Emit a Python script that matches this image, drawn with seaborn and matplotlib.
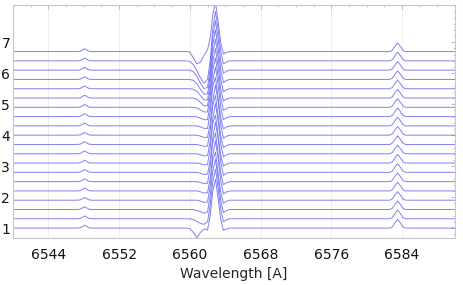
import numpy as np
import pandas as pd
import matplotlib
matplotlib.use("Agg")
import matplotlib.pyplot as plt
from matplotlib.ticker import MultipleLocator
import seaborn as sns

# vertical offset of each spectrum, bottom to top
offsets = [1.0, 1.3, 1.6, 1.9, 2.2, 2.5, 2.8, 3.1, 3.4, 3.7,
           4.0, 4.3, 4.6, 4.9, 5.2, 5.5, 5.8, 6.1, 6.4, 6.7]

# continuum + [NII] 6548 on the blue side
wl_blue = [6540.0, 6547.3, 6547.6, 6547.85, 6548.1, 6548.35, 6548.6, 6548.9, 6559.2]
flux_blue = [0.0, 0.0, 0.01, 0.05, 0.09, 0.05, 0.01, 0.0, 0.0]

# continuum + [NII] 6583 on the red side
wl_red = [6564.9, 6582.6, 6582.9, 6583.2, 6583.5, 6583.8, 6584.1, 6584.4, 6590.0]
flux_red = [0.0, 0.0, 0.04, 0.17, 0.28, 0.17, 0.04, 0.0, 0.0]

# H-alpha region, one row per spectrum (bottom to top)
wl_ha = [6559.6, 6560.0, 6560.4, 6560.8, 6561.2, 6561.6, 6562.0, 6562.3,
         6562.6, 6562.9, 6563.2, 6563.5, 6563.8, 6564.1, 6564.5]
ha_rows = [
    [0.00, -0.01, -0.14, -0.32, -0.14, -0.03, -0.06, 0.40, 1.20, 1.58, 0.95, 0.28, -0.08, -0.03, 0.00],
    [0.00, 0.00, -0.03, -0.08, -0.15, -0.18, -0.10, 0.42, 1.22, 1.60, 0.98, 0.30, -0.10, -0.04, 0.00],
    [0.00, 0.00, 0.00, -0.03, -0.07, -0.12, -0.08, 0.45, 1.25, 1.62, 0.96, 0.28, -0.10, -0.04, 0.00],
    [0.00, 0.00, 0.00, 0.00, -0.03, -0.07, -0.06, 0.47, 1.30, 1.55, 0.88, 0.25, -0.10, -0.04, 0.00],
    [0.00, 0.00, 0.00, 0.00, -0.03, -0.07, -0.06, 0.40, 1.15, 1.62, 1.05, 0.32, -0.10, -0.04, 0.00],
    [0.00, 0.00, 0.00, 0.00, -0.03, -0.06, -0.05, 0.47, 1.28, 1.57, 0.90, 0.26, -0.10, -0.04, 0.00],
    [0.00, 0.00, 0.00, 0.00, -0.03, -0.07, -0.06, 0.38, 1.12, 1.62, 1.08, 0.33, -0.10, -0.04, 0.00],
    [0.00, 0.00, 0.00, 0.00, -0.02, -0.06, -0.05, 0.47, 1.30, 1.55, 0.88, 0.25, -0.10, -0.04, 0.00],
    [0.00, 0.00, 0.00, 0.00, -0.03, -0.07, -0.06, 0.40, 1.15, 1.62, 1.05, 0.32, -0.10, -0.04, 0.00],
    [0.00, 0.00, 0.00, 0.00, -0.03, -0.06, -0.05, 0.46, 1.26, 1.58, 0.92, 0.27, -0.10, -0.04, 0.00],
    [0.00, 0.00, 0.00, 0.00, -0.03, -0.07, -0.07, 0.38, 1.12, 1.62, 1.08, 0.33, -0.10, -0.04, 0.00],
    [0.00, 0.00, 0.00, 0.00, -0.03, -0.08, -0.08, 0.45, 1.28, 1.57, 0.90, 0.26, -0.10, -0.04, 0.00],
    [0.00, 0.00, 0.00, -0.01, -0.05, -0.10, -0.10, 0.40, 1.18, 1.60, 1.02, 0.30, -0.10, -0.04, 0.00],
    [0.00, 0.00, 0.00, -0.02, -0.08, -0.15, -0.15, 0.35, 1.20, 1.60, 1.00, 0.30, -0.10, -0.04, 0.00],
    [0.00, 0.00, 0.00, -0.04, -0.14, -0.25, -0.25, 0.28, 1.18, 1.60, 1.00, 0.30, -0.10, -0.04, 0.00],
    [0.00, 0.00, -0.02, -0.08, -0.22, -0.36, -0.36, 0.20, 1.16, 1.60, 1.00, 0.30, -0.10, -0.04, 0.00],
    [0.00, 0.00, -0.03, -0.14, -0.32, -0.48, -0.46, 0.12, 1.14, 1.60, 1.00, 0.30, -0.10, -0.04, 0.00],
    [0.00, 0.00, -0.05, -0.20, -0.42, -0.60, -0.55, 0.05, 1.10, 1.60, 1.00, 0.30, -0.10, -0.04, 0.00],
    [0.00, -0.02, -0.12, -0.32, -0.55, -0.72, -0.60, 0.00, 1.05, 1.60, 1.00, 0.30, -0.10, -0.04, 0.00],
    [0.00, -0.02, -0.20, -0.40, -0.34, -0.12, 0.05, 0.45, 1.20, 1.60, 0.97, 0.29, -0.08, -0.03, 0.00],
]

# long-form table for seaborn
wl_all = wl_blue + wl_ha + wl_red
frames = []
for i, (off, row) in enumerate(zip(offsets, ha_rows)):
    flux = np.array(flux_blue + row + flux_red) + off
    frames.append(pd.DataFrame({"wavelength": wl_all, "flux": flux, "spectrum": i}))
df = pd.concat(frames, ignore_index=True)

sns.set_style("white")
plt.rcParams["font.family"] = ["DejaVu Sans"]

fig = plt.figure(figsize=(4.63, 2.85), dpi=100)
ax = fig.add_axes([0.028, 0.165, 0.955, 0.817])

sns.lineplot(data=df, x="wavelength", y="flux", units="spectrum", estimator=None,
             sort=False, color="#6a6af2", linewidth=0.7, alpha=0.85, ax=ax)

ax.set_xlim(6540, 6590)
ax.set_ylim(0.68, 8.2)
ax.set_xticks([6544, 6552, 6560, 6568, 6576, 6584])
ax.xaxis.set_minor_locator(MultipleLocator(2))
ax.set_yticks([1, 2, 3, 4, 5, 6, 7])
ax.yaxis.set_minor_locator(MultipleLocator(0.2))
ax.grid(axis="x", which="major", color="#ececec", linewidth=0.6)
ax.set_axisbelow(True)

for s in ax.spines.values():
    s.set_color("#c8c8c8")
    s.set_linewidth(0.8)
ax.tick_params(which="both", direction="in", top=True, right=True,
               color="#b0b0b0", labelsize=10, labelcolor="#111111")
ax.tick_params(which="major", length=3, width=0.6)
ax.tick_params(which="minor", length=1.5, width=0.5)
ax.tick_params(axis="y", pad=2)
ax.tick_params(axis="x", pad=7)

ax.set_xlabel("Wavelength [A]", fontsize=10, labelpad=4)
ax.set_ylabel("")

fig.savefig("out.png", dpi=100)
